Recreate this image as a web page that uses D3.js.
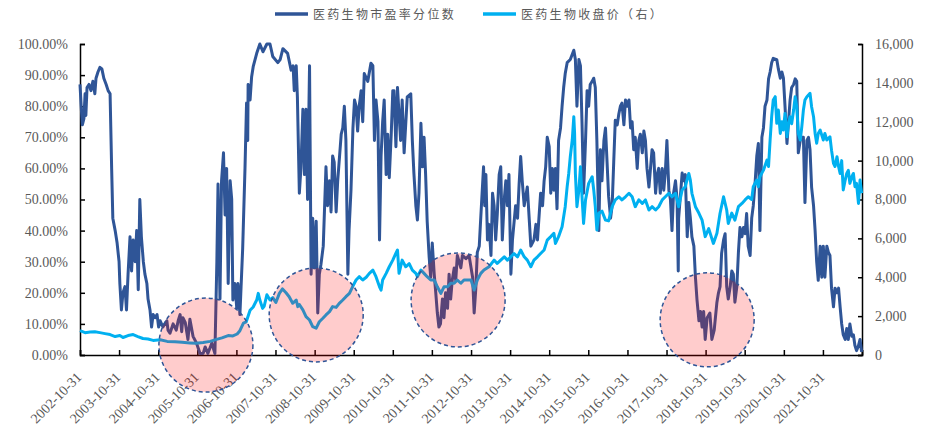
<!DOCTYPE html>
<html lang="zh">
<head>
<meta charset="utf-8">
<script src="https://d3js.org/d3.v7.min.js"></script>
<style>
  body { margin: 0; background: #fff; }
  text { font-family: "Liberation Serif", "Times New Roman", serif; fill: #595959; }
  .legend text { font-family: "Noto Sans CJK SC", sans-serif; font-size: 12px; letter-spacing: 2.3px; }
</style>
</head>
<body>
<div id="chart"></div>
<script>
// [decimal year, percentile %]
const peSeries = [
  [2002.83,87],[2002.86,80],[2002.89,74],[2002.93,76],[2002.96,84],[2002.98,77],[2003.01,86],[2003.06,87],
  [2003.11,85],[2003.16,88],[2003.21,84],[2003.24,89],[2003.29,91],[2003.34,92.5],[2003.39,92],[2003.44,89],
  [2003.50,87],[2003.55,85],[2003.60,84],[2003.64,60],[2003.67,44],[2003.73,40],[2003.78,36],[2003.83,30],
  [2003.85,23],[2003.89,14.5],[2003.93,20],[2003.98,22],[2004.02,14.5],[2004.06,26],[2004.11,38],[2004.15,27],
  [2004.19,37],[2004.24,30],[2004.28,40],[2004.32,21],[2004.36,50],[2004.40,38],[2004.45,30],[2004.49,26],
  [2004.54,23],[2004.57,18],[2004.62,14.5],[2004.66,9],[2004.70,13],[2004.75,12],[2004.80,13],[2004.84,9],
  [2004.88,11],[2004.95,9],[2005.05,11],[2005.08,8],[2005.13,7],[2005.21,10],[2005.29,8],[2005.34,11],
  [2005.39,13],[2005.43,7.5],[2005.46,12],[2005.52,10.5],[2005.59,5],[2005.64,11.5],[2005.72,6],[2005.81,3.8],
  [2005.90,0.5],[2005.98,0.5],[2006.03,2.6],[2006.10,0.5],[2006.20,3.8],[2006.28,0.5],[2006.33,30],[2006.36,55],
  [2006.41,18],[2006.45,56],[2006.50,65],[2006.54,45],[2006.58,60],[2006.62,23],[2006.67,56],[2006.71,50],
  [2006.74,17.7],[2006.79,23],[2006.84,15],[2006.87,23],[2006.92,13],[2006.99,34],[2007.05,60],[2007.09,81],
  [2007.12,69],[2007.13,87],[2007.18,82],[2007.22,89.5],[2007.26,92.7],[2007.35,97],[2007.43,100],[2007.51,97.5],
  [2007.61,100],[2007.69,100],[2007.76,96],[2007.89,94],[2007.95,95],[2008.02,98.5],[2008.14,97],[2008.23,91.6],
  [2008.28,93],[2008.31,85],[2008.36,93],[2008.39,83],[2008.44,52],[2008.48,60],[2008.53,79],[2008.57,58],
  [2008.61,79],[2008.65,50],[2008.70,93],[2008.74,26],[2008.78,44],[2008.82,28],[2008.87,43],[2008.91,13.5],
  [2008.95,26],[2008.99,29],[2009.05,35],[2009.12,60.5],[2009.16,48],[2009.21,56],[2009.25,46],[2009.29,64],
  [2009.33,62],[2009.38,46],[2009.42,56],[2009.51,71],[2009.55,73],[2009.59,80],[2009.63,69],[2009.68,26],
  [2009.71,40],[2009.76,53],[2009.81,73],[2009.85,82],[2009.89,80],[2009.93,72],[2009.97,80],[2010.02,85],
  [2010.06,75],[2010.10,90.5],[2010.19,88],[2010.27,93.8],[2010.32,93],[2010.36,69],[2010.40,82],[2010.45,75],
  [2010.49,37],[2010.53,64],[2010.57,75],[2010.61,82],[2010.66,58],[2010.70,71],[2010.74,57],[2010.79,71],
  [2010.83,85],[2010.86,85],[2010.91,67],[2010.95,86],[2011.03,69],[2011.07,82],[2011.12,65],[2011.20,83],
  [2011.29,84],[2011.33,69],[2011.37,58.5],[2011.42,48],[2011.46,43.4],[2011.50,52],[2011.55,74.5],[2011.59,60.5],
  [2011.63,70],[2011.67,58],[2011.71,43],[2011.76,31.6],[2011.80,25],[2011.84,36],[2011.89,26],[2011.93,20],
  [2011.97,13.5],[2012.01,9],[2012.05,10],[2012.10,18],[2012.14,12],[2012.18,20],[2012.23,15],[2012.27,26],
  [2012.31,18],[2012.35,24],[2012.40,28],[2012.44,24],[2012.48,32],[2012.57,28],[2012.61,32],[2012.70,31],
  [2012.78,32],[2012.87,25],[2012.91,13.5],[2012.95,21],[2012.99,33],[2013.04,35],[2013.08,44.5],[2013.15,60.5],
  [2013.18,48],[2013.21,58],[2013.25,37],[2013.29,42],[2013.34,32],[2013.38,52],[2013.42,48],[2013.46,37],
  [2013.50,45],[2013.55,58],[2013.59,60.5],[2013.63,37],[2013.68,50],[2013.72,56],[2013.76,48],[2013.80,58],
  [2013.85,26],[2013.89,37],[2013.97,48],[2014.02,44],[2014.06,55],[2014.10,63.8],[2014.14,56],[2014.19,48],
  [2014.27,54],[2014.36,35],[2014.44,37],[2014.49,42],[2014.53,37],[2014.61,52],[2014.66,48],[2014.70,56],
  [2014.74,60.5],[2014.78,70],[2014.83,67],[2014.87,52],[2014.91,60],[2014.95,53],[2014.99,60],[2015.03,47],
  [2015.07,69],[2015.12,73],[2015.16,80],[2015.20,86],[2015.24,90.5],[2015.29,94],[2015.37,95],[2015.46,98],
  [2015.50,95],[2015.54,80],[2015.59,95],[2015.63,93],[2015.67,74.5],[2015.71,52],[2015.76,69],[2015.80,85],
  [2015.84,80],[2015.88,87],[2015.93,88],[2015.97,89],[2016.01,86],[2016.05,69],[2016.10,40],[2016.14,66],
  [2016.18,56],[2016.23,69],[2016.27,73],[2016.31,62],[2016.35,51],[2016.40,44],[2016.44,48],[2016.48,62],
  [2016.52,75.5],[2016.57,74],[2016.61,77.5],[2016.65,80],[2016.69,81],[2016.74,74],[2016.78,82],[2016.82,80],
  [2016.87,82],[2016.91,73],[2016.95,75],[2016.99,66],[2017.03,70],[2017.08,60],[2017.12,69],[2017.16,71],
  [2017.21,65],[2017.25,72],[2017.29,69],[2017.33,60],[2017.38,54],[2017.42,60],[2017.46,66],[2017.50,65],
  [2017.55,52],[2017.59,58],[2017.63,60],[2017.67,52],[2017.72,60],[2017.76,53],[2017.80,59],[2017.84,69],
  [2017.89,53],[2017.93,50],[2017.97,40],[2018.01,52],[2018.06,56],[2018.10,50],[2018.13,27],[2018.14,44],
  [2018.19,52],[2018.23,58.5],[2018.27,56],[2018.31,58],[2018.36,38],[2018.40,49],[2018.44,44],[2018.48,38],
  [2018.53,35],[2018.57,25],[2018.61,17.7],[2018.66,11],[2018.70,14],[2018.74,9],[2018.78,14],[2018.82,5],
  [2018.87,12],[2018.94,13.5],[2018.99,5],[2019.05,8],[2019.12,17],[2019.16,20],[2019.20,22],[2019.24,32.7],
  [2019.29,37],[2019.33,39],[2019.37,22],[2019.41,18],[2019.46,22],[2019.50,27],[2019.54,26],[2019.58,17],
  [2019.63,22],[2019.67,33],[2019.71,41],[2019.76,38],[2019.80,41],[2019.84,39],[2019.88,45.5],[2019.92,35],
  [2019.97,32],[2020.01,44],[2020.05,48],[2020.10,56],[2020.14,64],[2020.18,68],[2020.22,40],[2020.27,70],
  [2020.31,73],[2020.35,80],[2020.40,82],[2020.44,88.8],[2020.48,91],[2020.52,94],[2020.56,95.4],[2020.65,95],
  [2020.69,92],[2020.74,89],[2020.78,91],[2020.82,89],[2020.86,80],[2020.91,68],[2020.95,75],[2020.99,82],
  [2021.03,86],[2021.08,87],[2021.12,88.8],[2021.16,88],[2021.20,65],[2021.25,69],[2021.29,70],[2021.33,70],
  [2021.37,49],[2021.42,69],[2021.46,70],[2021.50,66],[2021.54,54],[2021.59,48],[2021.63,40],[2021.67,30],
  [2021.71,24],[2021.76,35],[2021.80,25],[2021.84,35],[2021.88,25],[2021.93,35],[2021.97,33],[2022.01,32],
  [2022.05,21.5],[2022.10,15.5],[2022.14,21.5],[2022.19,20],[2022.23,21.5],[2022.27,15.5],[2022.31,10],[2022.35,6.5],
  [2022.40,5],[2022.44,8.5],[2022.48,5],[2022.52,10],[2022.57,6],[2022.61,6.5],[2022.65,3],[2022.69,1.4],
  [2022.74,3],[2022.78,5],[2022.82,1]
];

// [decimal year, closing price]
const priceSeries = [
  [2002.83,1250],[2002.96,1150],[2003.09,1180],[2003.21,1200],[2003.34,1150],[2003.47,1100],[2003.60,1050],
  [2003.73,950],[2003.85,1000],[2003.93,900],[2004.06,1000],[2004.19,1050],[2004.31,950],[2004.44,850],
  [2004.57,820],[2004.70,750],[2004.88,780],[2005.06,700],[2005.26,680],[2005.44,650],[2005.64,620],
  [2005.80,600],[2005.98,640],[2006.16,700],[2006.28,780],[2006.46,880],[2006.62,1000],[2006.74,980],
  [2006.85,1080],[2006.92,1250],[2007.01,1640],[2007.08,1700],[2007.18,2300],[2007.26,2470],[2007.35,2830],
  [2007.39,3170],[2007.43,2830],[2007.50,2400],[2007.54,2500],[2007.61,3100],[2007.69,2830],[2007.76,2950],
  [2007.84,2700],[2007.93,3170],[2008.01,3400],[2008.10,3200],[2008.18,3000],[2008.27,2660],[2008.36,2830],
  [2008.40,2490],[2008.44,2600],[2008.53,2320],[2008.61,1970],[2008.70,1800],[2008.78,1460],[2008.87,1380],
  [2008.95,1710],[2009.04,1890],[2009.12,2060],[2009.21,2230],[2009.29,2490],[2009.38,2450],[2009.46,2660],
  [2009.55,2830],[2009.63,3000],[2009.72,3170],[2009.80,3510],[2009.89,3860],[2009.97,4030],[2010.06,3860],
  [2010.15,4000],[2010.23,4200],[2010.32,4370],[2010.40,4030],[2010.49,3510],[2010.53,3340],[2010.57,3860],
  [2010.66,4200],[2010.74,4540],[2010.83,4880],[2010.91,5240],[2010.95,5400],[2010.99,4200],[2011.07,4880],
  [2011.16,4540],[2011.25,4700],[2011.33,4370],[2011.42,4200],[2011.46,4030],[2011.55,4370],[2011.63,4200],
  [2011.71,4030],[2011.80,3860],[2011.89,3860],[2011.97,3510],[2012.06,3170],[2012.14,3510],[2012.23,3510],
  [2012.31,3690],[2012.40,3690],[2012.48,3860],[2012.57,3690],[2012.65,3860],[2012.74,3860],[2012.83,3860],
  [2012.91,3340],[2012.99,3860],[2013.08,4200],[2013.16,4370],[2013.29,4540],[2013.42,4880],[2013.50,4710],
  [2013.59,4880],[2013.68,5050],[2013.76,4880],[2013.85,5050],[2013.93,5220],[2014.02,5050],[2014.10,5400],
  [2014.19,5050],[2014.27,4880],[2014.36,4540],[2014.44,4880],[2014.53,5050],[2014.61,5220],[2014.70,5400],
  [2014.78,5910],[2014.87,6090],[2014.95,6260],[2014.99,5740],[2015.07,6090],[2015.16,6600],[2015.24,7630],
  [2015.29,8660],[2015.33,9340],[2015.37,10200],[2015.42,11060],[2015.46,12260],[2015.48,11400],[2015.50,9340],
  [2015.54,7630],[2015.59,8490],[2015.63,9690],[2015.67,8140],[2015.71,6770],[2015.76,7980],[2015.84,8830],
  [2015.93,9170],[2015.97,8490],[2016.01,7630],[2016.05,6430],[2016.10,7300],[2016.18,7400],[2016.27,6940],
  [2016.35,6900],[2016.44,7630],[2016.52,7980],[2016.61,8140],[2016.69,7980],[2016.78,8140],[2016.87,8320],
  [2016.95,8140],[2017.03,7630],[2017.12,7980],[2017.21,7800],[2017.29,7980],[2017.38,7460],[2017.46,7630],
  [2017.55,7460],[2017.63,7630],[2017.72,7980],[2017.80,8140],[2017.89,8320],[2017.97,8140],[2018.06,8320],
  [2018.14,7630],[2018.23,8490],[2018.31,8660],[2018.40,9340],[2018.44,9000],[2018.48,8320],[2018.57,7630],
  [2018.66,7290],[2018.74,6940],[2018.82,6090],[2018.91,6500],[2019.03,5740],[2019.12,6260],[2019.20,7290],
  [2019.29,8140],[2019.37,7460],[2019.41,6770],[2019.50,7300],[2019.58,6940],[2019.67,7630],[2019.76,7800],
  [2019.84,7980],[2019.92,8140],[2020.01,8000],[2020.05,8660],[2020.14,9000],[2020.18,8660],[2020.22,9170],
  [2020.31,9510],[2020.40,10030],[2020.44,9700],[2020.48,11060],[2020.52,12260],[2020.56,13120],[2020.61,13290],
  [2020.65,11920],[2020.69,12600],[2020.74,11400],[2020.78,12000],[2020.82,11580],[2020.86,12430],[2020.91,11230],
  [2020.95,11900],[2020.99,12260],[2021.03,11900],[2021.08,12600],[2021.12,13290],[2021.16,12770],[2021.20,11400],
  [2021.25,11060],[2021.29,11750],[2021.33,12600],[2021.37,13120],[2021.42,13290],[2021.50,13460],[2021.54,12770],
  [2021.59,12260],[2021.63,11400],[2021.67,10890],[2021.71,11400],[2021.76,11570],[2021.84,11060],[2021.88,11400],
  [2021.93,11060],[2022.01,11230],[2022.05,10540],[2022.10,9860],[2022.14,9700],[2022.19,10200],[2022.23,9700],
  [2022.27,9340],[2022.31,10000],[2022.35,8490],[2022.40,9000],[2022.44,9340],[2022.48,9500],[2022.52,8830],
  [2022.57,9170],[2022.61,9340],[2022.65,8660],[2022.69,8830],[2022.74,7800],[2022.78,9000],[2022.82,8320]
];

const xTickLabels = ["2002-10-31","2003-10-31","2004-10-31","2005-10-31","2006-10-31","2007-10-31",
  "2008-10-31","2009-10-31","2010-10-31","2011-10-31","2012-10-31","2013-10-31","2014-10-31",
  "2015-10-31","2016-10-31","2017-10-31","2018-10-31","2019-10-31","2020-10-31","2021-10-31"];
const leftTicks = [0, 0.1, 0.2, 0.3, 0.4, 0.5, 0.6, 0.7, 0.8, 0.9, 1.0];
const rightTicks = [0, 2000, 4000, 6000, 8000, 10000, 12000, 14000, 16000];
const legendNames = ["医药生物市盈率分位数", "医药生物收盘价（右）"];
// highlighted low-valuation zones: centre [decimal year, percentile %]
const highlights = [[2006.05, 3.2], [2008.87, 12.9], [2012.50, 17.7], [2018.87, 11.3]];

const width = 931, height = 430;
const margin = {left: 80, right: 69, top: 44, bottom: 75};
const darkBlue = "#2F5597", lightBlue = "#00B0F0";

function toDate(y) {
  const yr = Math.floor(y);
  const s = new Date(yr, 0, 1), e = new Date(yr + 1, 0, 1);
  return new Date(+s + (y - yr) * (e - s));
}
const parse = d3.timeParse("%Y-%m-%d");

const svg = d3.select("#chart").append("svg")
  .attr("width", width).attr("height", height);

const x = d3.scaleTime()
  .domain([parse("2002-10-31"), parse("2022-10-31")])
  .range([margin.left, width - margin.right]);
const yL = d3.scaleLinear().domain([0, 1]).range([height - margin.bottom, margin.top]);
const yR = d3.scaleLinear().domain([0, 16000]).range([height - margin.bottom, margin.top]);

// axes
const gx = svg.append("g")
  .attr("transform", `translate(0,${height - margin.bottom})`)
  .call(d3.axisBottom(x).tickValues(xTickLabels.map(parse).concat([parse("2022-10-31")]))
    .tickSize(-5).tickFormat((d, i) => xTickLabels[i] || ""));
gx.selectAll("text")
  .attr("x", 0).attr("y", 0).attr("dy", null)
  .attr("text-anchor", "end")
  .attr("transform", "translate(2,23) rotate(-45)")
  .style("font-size", "14px");

const gl = svg.append("g")
  .attr("transform", `translate(${margin.left},0)`)
  .call(d3.axisLeft(yL).tickValues(leftTicks).tickFormat(d3.format(".2%")).tickSize(-5).tickPadding(12));
gl.selectAll("text").style("font-size", "14px");

const gr = svg.append("g")
  .attr("transform", `translate(${width - margin.right},0)`)
  .call(d3.axisRight(yR).tickValues(rightTicks).tickFormat(d3.format(",")).tickSize(-4).tickPadding(13));
gr.selectAll("text").style("font-size", "14px");

svg.selectAll(".domain").attr("stroke", "#000").attr("stroke-width", 1.5);
svg.selectAll(".tick line").attr("stroke", "#000").attr("stroke-width", 1.5);

// lines
const lineL = d3.line().x(d => x(toDate(d[0]))).y(d => yL(d[1] / 100));
const lineR = d3.line().x(d => x(toDate(d[0]))).y(d => yR(d[1]));

svg.append("path").datum(peSeries)
  .attr("fill", "none").attr("stroke", darkBlue).attr("stroke-width", 3)
  .attr("stroke-linejoin", "round").attr("d", lineL);
svg.append("path").datum(priceSeries)
  .attr("fill", "none").attr("stroke", lightBlue).attr("stroke-width", 3)
  .attr("stroke-linejoin", "round").attr("d", lineR);

// highlight circles
svg.append("g").selectAll("circle")
  .data(highlights)
  .join("circle")
  .attr("cx", d => x(toDate(d[0])))
  .attr("cy", d => yL(d[1] / 100))
  .attr("r", 47)
  .attr("fill", "rgba(255,0,0,0.2)")
  .attr("stroke", darkBlue)
  .attr("stroke-width", 1.5)
  .attr("stroke-dasharray", "4,3");

// legend
const legend = svg.append("g").attr("class", "legend");
const legendItems = [
  {name: legendNames[0], color: darkBlue, x0: 275},
  {name: legendNames[1], color: lightBlue, x0: 483}
];
legendItems.forEach(it => {
  legend.append("line")
    .attr("x1", it.x0).attr("x2", it.x0 + 33)
    .attr("y1", 14).attr("y2", 14)
    .attr("stroke", it.color).attr("stroke-width", 3.5);
  legend.append("text")
    .attr("x", it.x0 + 38).attr("y", 18.5)
    .text(it.name);
});
</script>
</body>
</html>
